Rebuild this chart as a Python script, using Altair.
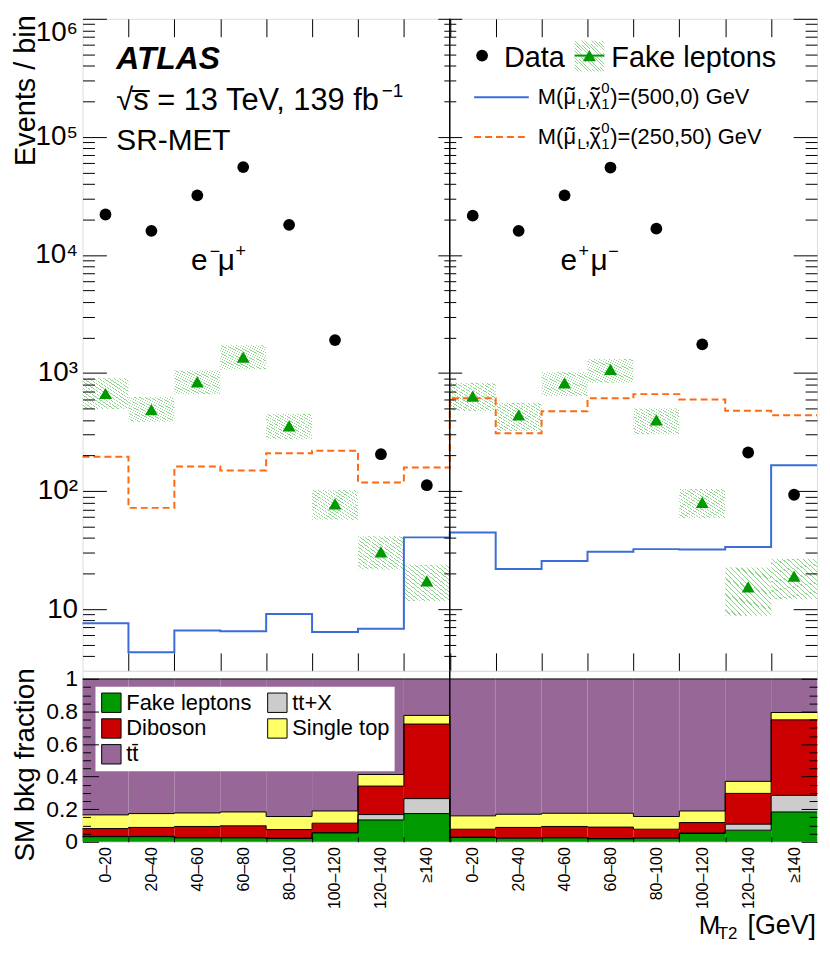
import altair as alt
import pandas as pd

FONT = "Liberation Sans"

# ---------------- data ----------------
bin_labels = ["0–20", "20–40", "40–60", "60–80", "80–100", "100–120", "120–140", "≥140"]

data_emu = [22000, 16000, 32000, 55500, 18000, 1900, 205, 112]
data_mue = [21500, 16000, 32000, 55000, 16700, 1750, 212, 93]

fake_emu = [670, 490, 840, 1360, 356, 78, 30.5, 17.3]
fake_emu_lo = [495, 387, 659, 1072, 275, 57, 21.6, 11.7]
fake_emu_hi = [903, 625, 1050, 1714, 452, 102, 41.3, 23.8]
fake_mue = [637, 441, 826, 1072, 400, 80, 15.4, 19.0]
fake_mue_lo = [476, 323, 637, 826, 303, 59, 8.8, 12.1]
fake_mue_hi = [826, 560, 1014, 1315, 501, 104, 22.5, 26.7]

sig500_emu = [7.6, 4.3, 6.6, 6.5, 9.1, 6.4, 6.8, 40.5]
sig500_mue = [44.6, 21.9, 25.5, 30.6, 32.2, 32.0, 33.5, 165]
sig250_emu = [195, 72, 161, 149, 209, 219, 118, 158]
sig250_mue = [610, 309, 473, 610, 662, 597, 479, 438]

# stacking order (bottom to top)
components = ["Fake leptons", "tt+X", "Diboson", "Single top", "tt̄"]
comp_colors = {"Fake leptons": "#009a00", "tt+X": "#cccccc", "Diboson": "#cc0000",
               "Single top": "#ffff66", "tt̄": "#976797"}
# legend reading order (filled column by column)
legend_order = ["Fake leptons", "Diboson", "tt̄", "tt+X", "Single top"]

frac_emu = {
    "Fake leptons": [0.031, 0.031, 0.024, 0.024, 0.020, 0.053, 0.134, 0.173],
    "tt+X": [0.002, 0.002, 0.002, 0.002, 0.002, 0.003, 0.033, 0.092],
    "Diboson": [0.048, 0.055, 0.068, 0.072, 0.053, 0.058, 0.175, 0.458],
    "Single top": [0.084, 0.085, 0.083, 0.085, 0.080, 0.075, 0.071, 0.053],
    "tt̄": [0.835, 0.827, 0.823, 0.817, 0.845, 0.811, 0.587, 0.224],
}
frac_mue = {
    "Fake leptons": [0.026, 0.022, 0.024, 0.018, 0.022, 0.051, 0.071, 0.183],
    "tt+X": [0.002, 0.002, 0.002, 0.002, 0.002, 0.003, 0.037, 0.102],
    "Diboson": [0.049, 0.064, 0.068, 0.070, 0.053, 0.064, 0.189, 0.464],
    "Single top": [0.082, 0.081, 0.081, 0.085, 0.078, 0.071, 0.074, 0.045],
    "tt̄": [0.841, 0.831, 0.825, 0.825, 0.845, 0.811, 0.629, 0.206],
}

top_major = [10, 100, 1000, 10000, 100000, 1000000]
top_major_labels = ["10", "10²", "10³", "10⁴", "10⁵", "10⁶"]
top_minor = [4, 5, 6, 7, 8, 9, 20, 30, 40, 50, 60, 70, 80, 90,
             200, 300, 400, 500, 600, 700, 800, 900,
             2000, 3000, 4000, 5000, 6000, 7000, 8000, 9000,
             20000, 30000, 40000, 50000, 60000, 70000, 80000, 90000,
             200000, 300000, 400000, 500000, 600000, 700000, 800000, 900000]
frac_major = [0, 0.2, 0.4, 0.6, 0.8, 1.0]
frac_minor = [0.05, 0.1, 0.15, 0.25, 0.3, 0.35, 0.45, 0.5, 0.55,
              0.65, 0.7, 0.75, 0.85, 0.9, 0.95]

# ---------------- tables ----------------
NB = 2 * len(bin_labels)
bins = pd.DataFrame({
    "x0": list(range(NB)),
    "x1": [i + 1 for i in range(NB)],
    "xc": [i + 0.5 for i in range(NB)],
    "data": data_emu + data_mue,
    "fake": fake_emu + fake_mue,
    "fake_lo": fake_emu_lo + fake_mue_lo,
    "fake_hi": fake_emu_hi + fake_mue_hi,
})
s500 = sig500_emu + sig500_mue
s250 = sig250_emu + sig250_mue
sig = pd.DataFrame({"x": list(range(NB + 1)),
                    "s500": s500 + s500[-1:],
                    "s250": s250 + s250[-1:]})

rows = []
for ci, comp in enumerate(components):
    vals = frac_emu[comp] + frac_mue[comp]
    for i, v in enumerate(vals):
        rows.append({"bin": i, "x0": i, "x1": i + 1, "comp": comp, "order": ci, "frac": v})
frac = pd.DataFrame(rows)

one = pd.DataFrame({"k": [0]})

# ---------------- geometry / styles ----------------
W, H1, H2 = 739, 656, 172
MID = W / 2
edges = list(range(1, NB))
centers = [i + 0.5 for i in range(NB)]

xs = alt.Scale(domain=[0, NB], nice=False, zero=False)
ys_top = alt.Scale(type="log", domain=[3, 1e6], nice=False)
ys_bot = alt.Scale(domain=[0, 1.05], nice=False, zero=False)

BLUE = "#3a6ed6"
ORANGE = "#ff6a10"
GREEN = "#009a00"


def hatch(n=18, frac_w=0.24, color="#8fd38f"):
    stops = []
    for k in range(n):
        a = round(k / n, 5)
        b = round((k + frac_w) / n, 5)
        c = round((k + 1) / n, 5)
        stops += [alt.GradientStop(color=color, offset=a),
                  alt.GradientStop(color=color, offset=b),
                  alt.GradientStop(color="white", offset=b),
                  alt.GradientStop(color="white", offset=c)]
    return alt.LinearGradient(gradient="linear", stops=stops, x1=0, y1=1, x2=1, y2=0)


def ax(orient, values, size, offset, **kw):
    d = dict(orient=orient, values=values, tickSize=size, offset=offset, domain=False,
             grid=False, labels=False, tickColor="black", tickWidth=1, zindex=1,
             title=None, labelOverlap=False)
    d.update(kw)
    return alt.Axis(**d)


def text_mark(s, x, y, size, align="left", **kw):
    return alt.Chart(one).mark_text(text=s, font=FONT, fontSize=size, align=align,
                                    baseline="alphabetic", color="black", **kw).encode(
        x=alt.value(x), y=alt.value(y))


label_expr_top = "".join(f"datum.value == {v} ? '{l}' : " for v, l in
                         zip(top_major, top_major_labels)) + "''"
label_expr_bins = "[" + ",".join(f"'{l}'" for l in bin_labels) + \
    f"][floor(datum.value) % {len(bin_labels)}]"

# ---------------- top panel ----------------
band = alt.Chart(bins).mark_rect(fill=hatch()).encode(
    x=alt.X("x0:Q", scale=xs, axis=ax("bottom", edges, 18, -18)),
    x2="x1",
    y=alt.Y("fake_lo:Q", scale=ys_top, axis=ax(
        "left", top_major, 24, -24, labels=True, labelExpr=label_expr_top,
        labelFont=FONT, labelFontSize=28, labelPadding=5, labelColor="black",
        labelFlush=True, title="Events / bin", titleFont=FONT, titleFontSize=29,
        titleFontWeight="normal", titleAngle=270, titleAlign="right",
        titleBaseline="alphabetic", titleX=-72, titleY=-4, titleColor="black")),
    y2="fake_hi",
)
line250 = alt.Chart(sig).mark_line(interpolate="step-after", color=ORANGE, strokeWidth=2,
                                   strokeDash=[7, 4]).encode(
    x=alt.X("x:Q", scale=xs, axis=ax("top", edges, 18, -18)),
    y=alt.Y("s250:Q", scale=ys_top, axis=ax("left", top_minor, 12, -12)),
)
line500 = alt.Chart(sig).mark_line(interpolate="step-after", color=BLUE, strokeWidth=2).encode(
    x=alt.X("x:Q", scale=xs, axis=None),
    y=alt.Y("s500:Q", scale=ys_top, axis=ax("right", top_major, 24, -24)),
)
tri = alt.Chart(bins).mark_point(shape="triangle-up", filled=True, color=GREEN, size=170,
                                 opacity=1).encode(
    x=alt.X("xc:Q", scale=xs, axis=None),
    y=alt.Y("fake:Q", scale=ys_top, axis=ax("right", top_minor, 12, -12)),
)
pts = alt.Chart(bins).mark_circle(color="black", size=140, opacity=1).encode(
    x=alt.X("xc:Q", scale=xs, axis=None),
    y=alt.Y("data:Q", scale=ys_top, axis=ax("left", top_major, 24, -(MID + 12))),
)
div_top = alt.Chart(one).mark_rule(color="black", strokeWidth=1.5).encode(
    x=alt.XDatum(NB / 2, scale=xs, axis=None),
    y=alt.YDatum(3, scale=ys_top, axis=ax("left", top_minor, 12, -(MID + 6))),
    y2=alt.Y2Datum(1e6),
)

hat = hatch()
annot = [
    text_mark("ATLAS", 34, 50, 32, fontStyle="italic", fontWeight="bold"),
    text_mark("√s̅ = 13 TeV, 139 fb", 34, 92, 31),
    text_mark("−1", 301, 79, 19),
    text_mark("SR-MET", 34, 132, 30),
    # channel labels
    text_mark("e", 109, 253, 30),
    text_mark("−", 128, 240, 18),
    text_mark("μ", 136, 253, 30),
    text_mark("+", 154, 240, 18),
    text_mark("e", 481, 253, 30),
    text_mark("+", 499, 240, 18),
    text_mark("μ", 511, 253, 30),
    text_mark("−", 529, 240, 18),
    # legend
    alt.Chart(one).mark_circle(color="black", size=140, opacity=1).encode(
        x=alt.value(402), y=alt.value(37)),
    text_mark("Data", 424, 48, 29),
    alt.Chart(one).mark_rect(fill=hat).encode(
        x=alt.value(495), x2=alt.value(525), y=alt.value(22), y2=alt.value(53)),
    alt.Chart(one).mark_rule(color=GREEN, strokeWidth=2).encode(
        x=alt.value(495), x2=alt.value(525), y=alt.value(37)),
    alt.Chart(one).mark_point(shape="triangle-up", filled=True, color=GREEN, size=170,
                              opacity=1).encode(x=alt.value(510), y=alt.value(37)),
    text_mark("Fake leptons", 532, 48, 29),
    alt.Chart(one).mark_rule(color=BLUE, strokeWidth=2).encode(
        x=alt.value(394), x2=alt.value(449), y=alt.value(79)),
    alt.Chart(one).mark_rule(color=ORANGE, strokeWidth=2, strokeDash=[7, 4]).encode(
        x=alt.value(394), x2=alt.value(449), y=alt.value(119)),
]


def mlabel(mass, x0, yb):
    return [
        text_mark("M(", x0, yb, 22),
        text_mark("μ", x0 + 26, yb, 22),
        text_mark("˜", x0 + 33, yb + 1, 26, align="center"),
        text_mark("L", x0 + 40, yb + 5, 15),
        text_mark(",", x0 + 47, yb, 22),
        text_mark("χ", x0 + 52, yb, 22),
        text_mark("˜", x0 + 58, yb + 1, 26, align="center"),
        text_mark("0", x0 + 64, yb - 11, 15),
        text_mark("1", x0 + 64, yb + 5, 15),
        text_mark(")=" + mass + " GeV", x0 + 73, yb, 22),
    ]


annot += mlabel("(500,0)", 458, 86)
annot += mlabel("(250,50)", 458, 126)

top = alt.layer(band, line250, line500, tri, pts, div_top, *annot).properties(
    width=W, height=H1).resolve_axis(x="independent", y="independent")

# ---------------- bottom panel ----------------
stacked = alt.Chart(frac).transform_stack(
    stack="frac", groupby=["bin"], as_=["y0", "y1"],
    sort=[alt.SortField("order", order="ascending")])

bars = stacked.mark_rect().encode(
    x=alt.X("x0:Q", scale=xs, axis=ax(
        "bottom", centers, 0, 0, ticks=False, labels=True, labelExpr=label_expr_bins,
        labelAngle=270, labelFont=FONT, labelFontSize=16, labelPadding=5,
        labelColor="black")),
    x2="x1",
    y=alt.Y("y0:Q", scale=ys_bot, axis=ax(
        "left", frac_major, 16, -16, labels=True, format="~g", labelFont=FONT,
        labelFontSize=23, labelPadding=5, labelColor="black",
        title="SM bkg fraction", titleFont=FONT, titleFontSize=28,
        titleFontWeight="normal", titleAngle=270, titleAlign="right",
        titleBaseline="alphabetic", titleX=-65, titleY=-3, titleColor="black")),
    y2="y1",
    color=alt.Color("comp:N",
                    scale=alt.Scale(domain=legend_order,
                                    range=[comp_colors[c] for c in legend_order]),
                    legend=alt.Legend(
                        orient="none", legendX=13, legendY=16, columns=2,
                        symbolType="square", symbolSize=380, symbolStrokeColor="black",
                        symbolStrokeWidth=1, symbolOpacity=1, labelFont=FONT,
                        labelFontSize=22, labelColor="black", fillColor="white",
                        padding=5, rowPadding=2, columnPadding=14, labelLimit=300,
                        title=None)),
)
edges_h = stacked.mark_rule(color="black", strokeWidth=1).encode(
    x=alt.X("x0:Q", scale=xs, axis=ax("bottom", edges, 5, -5)),
    x2="x1",
    y=alt.Y("y1:Q", scale=ys_bot, axis=ax("left", frac_minor, 8, -8)),
)
edges_v = stacked.transform_window(
    prev="lag(y1)", groupby=["comp"], sort=[alt.SortField("bin", order="ascending")]
).transform_filter("isValid(datum.prev)").mark_rule(color="black", strokeWidth=1).encode(
    x=alt.X("x0:Q", scale=xs, axis=None),
    y=alt.Y("prev:Q", scale=ys_bot, axis=ax("right", frac_major, 16, -16)),
    y2="y1:Q",
)
div_bot = alt.Chart(one).mark_rule(color="black", strokeWidth=1.5).encode(
    x=alt.XDatum(NB / 2, scale=xs, axis=None),
    y=alt.YDatum(0, scale=ys_bot, axis=ax("right", frac_minor, 8, -8)),
    y2=alt.Y2Datum(1.05),
)
xtitle = [
    text_mark("M", 620, 265, 26),
    text_mark("T2", 639, 270, 17),
    text_mark("[GeV]", 738, 265, 27, align="right"),
]

bottom = alt.layer(bars, edges_h, edges_v, div_bot, *xtitle).properties(
    width=W, height=H2).resolve_axis(x="independent", y="independent")

chart = alt.vconcat(top, bottom, spacing=0, bounds="flush").resolve_scale(
    x="independent", y="independent", color="independent"
).configure_view(stroke="black", strokeWidth=1.5).configure(
    font=FONT, padding={"left": 3, "top": 3, "right": 0, "bottom": 0})

chart.save("out.html", embed_options={"renderer": "svg", "actions": False})
